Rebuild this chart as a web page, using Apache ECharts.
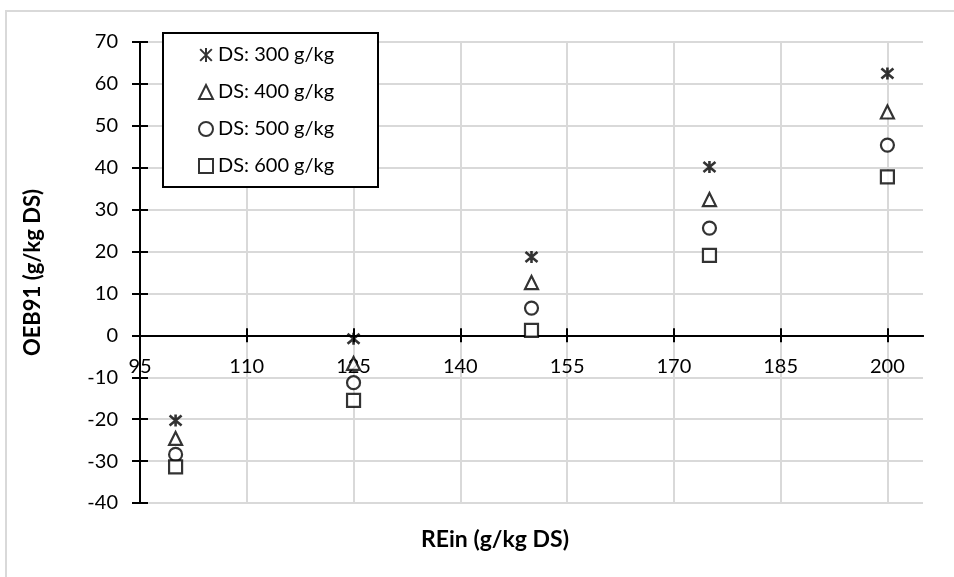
<!DOCTYPE html>
<html>
<head>
<meta charset="utf-8">
<title>OEB91 vs REin</title>
<script src="https://cdn.jsdelivr.net/npm/echarts@6/dist/echarts.min.js"></script>
<style>
  html, body { margin: 0; padding: 0; background: #ffffff; }
  #chart { width: 954px; height: 577px; }
</style>
</head>
<body>
<div id="chart"></div>
<script>
// REin levels (g/kg DS)
const rein = [100, 125, 150, 175, 200];

// OEB91 (g/kg DS) for each dry-matter level
const ds300 = [-20.3, -0.8, 18.7, 40.2, 62.5];
const ds400 = [-24.6, -6.7, 12.6, 32.4, 53.3];
const ds500 = [-28.4, -11.3, 6.5, 25.6, 45.4];
const ds600 = [-31.4, -15.5, 1.2, 19.1, 37.8];

const seriesNames = ['DS: 300 g/kg', 'DS: 400 g/kg', 'DS: 500 g/kg', 'DS: 600 g/kg'];

// axis ticks
const xTicks = [95, 110, 125, 140, 155, 170, 185, 200];
const yTicks = [-40, -30, -20, -10, 0, 10, 20, 30, 40, 50, 60, 70];

const FONT = 'Lato, "Open Sans", sans-serif';
const INK = '#000000';
const GRID = '#d9d9d9';

// plot area
const GRID_TOP = 42, GRID_BOTTOM = 74, CHART_H = 577;
const Y_MIN = -40, Y_MAX = 70;
const plotH = CHART_H - GRID_TOP - GRID_BOTTOM;
// shift the horizontal axis up from the plot bottom to the y = 0 line
const zeroOffset = -(plotH * (0 - Y_MIN) / (Y_MAX - Y_MIN));

const starPath = 'path://M0 0 L10 10 M10 0 L0 10 M5 -1 L5 11';
const markers = [
  { symbol: starPath, size: 12, stroke: 2.6 },
  { symbol: 'triangle', size: 13, stroke: 2.2 },
  { symbol: 'circle', size: 13, stroke: 2.2 },
  { symbol: 'rect', size: 13, stroke: 2.2 }
];
const values = [ds300, ds400, ds500, ds600];

function pairs(ys) {
  return rein.map((x, i) => [x, ys[i]]);
}

const series = values.map((ys, k) => ({
  name: seriesNames[k],
  type: 'scatter',
  xAxisIndex: 0,
  yAxisIndex: 0,
  symbol: markers[k].symbol,
  symbolSize: markers[k].size,
  itemStyle: { color: '#ffffff', borderColor: INK, borderWidth: markers[k].stroke },
  emphasis: { disabled: true },
  z: 3,
  data: pairs(ys)
}));

const xBase = {
  type: 'value',
  min: 95,
  max: 205,
  position: 'bottom',
  offset: zeroOffset,
  axisLine: { onZero: false, lineStyle: { color: INK, width: 2 } }
};
const yBase = {
  type: 'value',
  min: Y_MIN,
  max: Y_MAX,
  interval: 10,
  position: 'left',
  axisLine: { onZero: false, lineStyle: { color: INK, width: 2 } }
};

const chart = echarts.init(document.getElementById('chart'), null, { renderer: 'canvas' });

chart.setOption({
  animation: false,
  backgroundColor: '#ffffff',
  grid: { left: 140, right: 31, top: GRID_TOP, bottom: GRID_BOTTOM, containLabel: false },
  xAxis: [
    Object.assign({}, xBase, {
      axisTick: { show: true, inside: false, length: 7, customValues: xTicks, lineStyle: { color: INK, width: 2 } },
      axisLabel: { customValues: xTicks, margin: 21, fontFamily: FONT, fontSize: 20, color: INK },
      splitLine: { show: true, lineStyle: { color: GRID, width: 2 } }
    }),
    Object.assign({}, xBase, {
      axisTick: { show: true, inside: true, length: 7, customValues: xTicks, lineStyle: { color: INK, width: 2 } },
      axisLabel: { show: false },
      splitLine: { show: false }
    })
  ],
  yAxis: [
    Object.assign({}, yBase, {
      axisTick: { show: true, inside: false, length: 8, lineStyle: { color: INK, width: 2 } },
      axisLabel: { margin: 22, fontFamily: FONT, fontSize: 20, color: INK },
      splitLine: { show: true, lineStyle: { color: GRID, width: 2 } },
      name: 'OEB91 (g/kg DS)',
      nameLocation: 'middle',
      nameGap: 96,
      nameTextStyle: { fontFamily: FONT, fontSize: 22, fontWeight: 'bold', color: INK }
    }),
    Object.assign({}, yBase, {
      axisTick: { show: true, inside: true, length: 8, lineStyle: { color: INK, width: 2 } },
      axisLabel: { show: false },
      splitLine: { show: false }
    })
  ],
  legend: {
    orient: 'vertical',
    left: 164,
    top: 43,
    z: 6,
    itemGap: 13,
    itemWidth: 14,
    itemHeight: 14,
    selectedMode: false,
    data: seriesNames,
    textStyle: { fontFamily: FONT, fontSize: 20, color: INK, lineHeight: 24 },
    padding: [0, 0, 0, 34]
  },
  graphic: [
    {
      type: 'rect',
      z: -10,
      silent: true,
      shape: { x: 6, y: 11, width: 1200, height: 1200 },
      style: { fill: 'none', stroke: GRID, lineWidth: 2 }
    },
    {
      type: 'rect',
      z: 5,
      silent: true,
      shape: { x: 163, y: 33, width: 215, height: 154 },
      style: { fill: '#ffffff', stroke: INK, lineWidth: 2 }
    },
    {
      type: 'text',
      silent: true,
      x: 495,
      y: 540,
      style: {
        text: 'REin (g/kg DS)',
        fontFamily: FONT,
        fontSize: 23,
        fontWeight: 'bold',
        fill: INK,
        align: 'center',
        verticalAlign: 'middle'
      }
    }
  ],
  series: series
});
</script>
</body>
</html>
